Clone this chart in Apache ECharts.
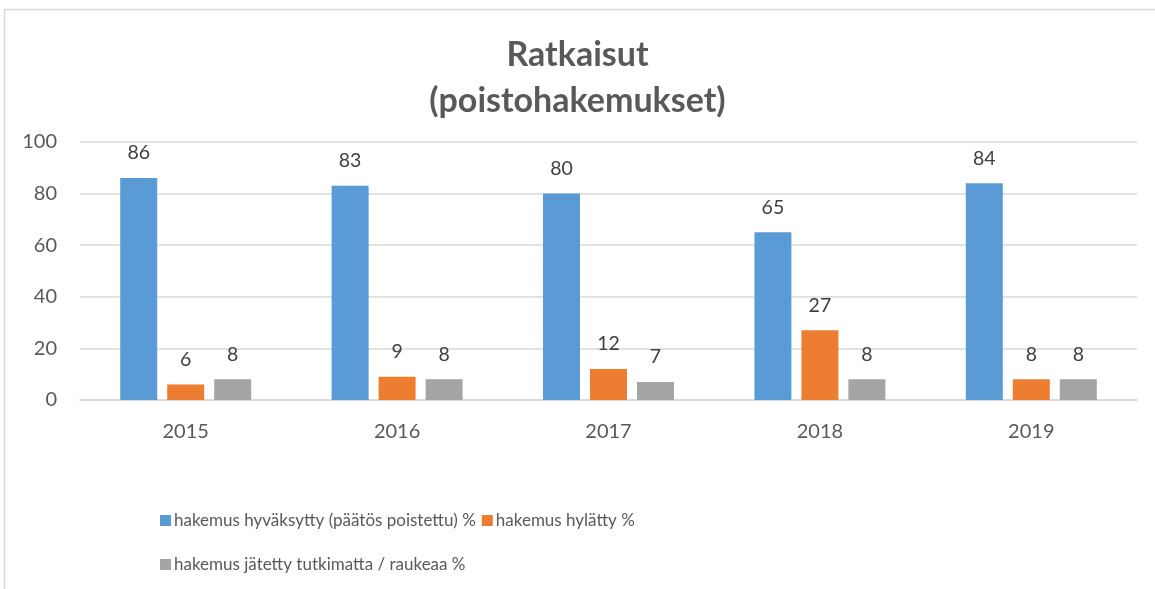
<!DOCTYPE html>
<html><head><meta charset="utf-8">
<script src="https://cdn.jsdelivr.net/npm/echarts@6/dist/echarts.min.js"></script>
<style>html,body{margin:0;padding:0;background:#fff}#c{width:1155px;height:589px}</style>
</head><body><div id="c"></div>
<script>
const categories = ['2015','2016','2017','2018','2019'];
const seriesNames = ['hakemus hyväksytty (päätös poistettu) %','hakemus hylätty %','hakemus jätetty tutkimatta / raukeaa %'];
const approved = [86,83,80,65,84];
const rejected = [6,9,12,27,8];
const dismissed = [8,8,7,8,8];
const colors = ['#5b9bd5','#ed7d31','#a5a5a5'];
const FONT = 'Lato, "Open Sans", sans-serif';
const chart = echarts.init(document.getElementById('c'));
const mk = (name, data, color) => ({
  name, type:'bar', data, barWidth:37, barGap:'27%',
  itemStyle:{color},
  label:{show:true, position:'top', distance:15, color:'#404040', fontSize:19.5, fontFamily:FONT}
});
chart.setOption({
  animation:false,
  textStyle:{fontFamily:FONT},
  graphic:[{type:'rect', shape:{x:4.5,y:9.5,width:1200,height:700}, style:{fill:'none', stroke:'#d9d9d9', lineWidth:1.5}, silent:true}],
  title:{text:'Ratkaisut\n(poistohakemukset)', left:'center', top:27,
    textStyle:{fontSize:34, fontWeight:'bold', color:'#595959', lineHeight:46, fontFamily:FONT}},
  grid:{left:80, right:18, top:142, bottom:189, containLabel:false},
  xAxis:{type:'category', data:categories,
    axisLine:{lineStyle:{color:'#d9d9d9', width:1.5}}, axisTick:{show:false},
    axisLabel:{color:'#595959', fontSize:20, margin:22, fontFamily:FONT}},
  yAxis:{type:'value', min:0, max:100, interval:20,
    axisLine:{show:false}, axisTick:{show:false},
    splitLine:{lineStyle:{color:'#d9d9d9', width:1.5}},
    axisLabel:{color:'#595959', fontSize:20, margin:23, fontFamily:FONT}},
  legend:[
    {data:[seriesNames[0],seriesNames[1]], left:155, top:507, itemWidth:11, itemHeight:11, itemGap:6, icon:'rect',
      textStyle:{color:'#595959', fontSize:17, fontFamily:FONT, padding:[0,0,0,-2]}},
    {data:[seriesNames[2]], left:155, top:551, itemWidth:11, itemHeight:11, icon:'rect',
      textStyle:{color:'#595959', fontSize:17, fontFamily:FONT, padding:[0,0,0,-2]}}
  ],
  series:[mk(seriesNames[0],approved,colors[0]), mk(seriesNames[1],rejected,colors[1]), mk(seriesNames[2],dismissed,colors[2])]
});
</script></body></html>
